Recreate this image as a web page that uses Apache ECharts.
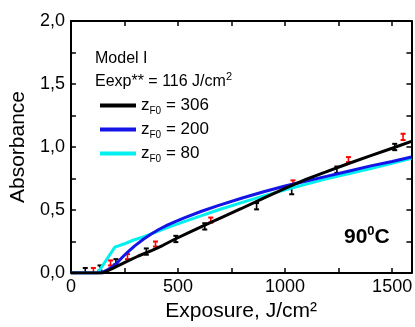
<!DOCTYPE html>
<html><head><meta charset="utf-8">
<script src="https://cdn.jsdelivr.net/npm/echarts@6/dist/echarts.min.js"></script>
<style>html,body{margin:0;padding:0;background:#fff}#c{width:415px;height:327px}</style>
</head><body><div id="c"></div>
<script>
// ---- data ----
const curve306 = [[0,0],[150,0],[200,0.04],[252,0.085],[315,0.135],[379,0.18],[430,0.22],[487,0.27],[555,0.325],[625,0.38],[710,0.445],[794,0.51],[900,0.595],[1000,0.672],[1100,0.745],[1188,0.80],[1290,0.865],[1397,0.93],[1500,0.99],[1590,1.045]];
const curve200 = [[0,0],[140,0],[165,0.02],[190,0.045],[215,0.08],[240,0.125],[265,0.165],[298,0.215],[340,0.27],[375,0.31],[410,0.345],[450,0.38],[490,0.41],[532,0.44],[610,0.49],[687,0.535],[800,0.595],[900,0.645],[1000,0.69],[1100,0.73],[1188,0.765],[1300,0.81],[1400,0.85],[1500,0.885],[1590,0.92]];
const curve80 = [[0,0],[125,0],[205,0.205],[250,0.232],[290,0.26],[335,0.285],[375,0.31],[450,0.36],[532,0.41],[610,0.455],[687,0.50],[800,0.56],[900,0.612],[1000,0.66],[1100,0.705],[1188,0.745],[1300,0.79],[1400,0.83],[1500,0.87],[1590,0.91]];
const expBlack = [[67,0.02,0.02],[136,0.04,0.02],[210,0.09,0.02],[352,0.17,0.025],[490,0.27,0.025],[625,0.37,0.025],[867,0.53,0.025],[1031,0.65,0.025],[1242,0.82,0.025],[1512,1.0,0.025]];
const expRed = [[105,0.02,0.02],[185,0.08,0.02],[264,0.13,0.02],[395,0.23,0.02],[653,0.42,0.02],[1037,0.72,0.015],[1296,0.90,0.02],[1551,1.08,0.025]];
const zValues = ['306','200','80'];
const xTicks = [0,500,1000,1500];
const yTicks = [0,0.5,1.0,1.5,2.0];

const FONT = 'Liberation Sans, Arial, sans-serif';
const chart = echarts.init(document.getElementById('c'), null, {renderer:'canvas'});

function errItem(color){
  return function(params, api){
    const x = api.value(0), y = api.value(1), e = api.value(2);
    const t = api.coord([x, y + e]), b = api.coord([x, y - e]);
    const w = 2.5;
    const st = {stroke: color, lineWidth: 1.6};
    return {type:'group', children:[
      {type:'line', shape:{x1:t[0], y1:t[1], x2:b[0], y2:b[1]}, style:st},
      {type:'line', shape:{x1:t[0]-w, y1:t[1], x2:t[0]+w, y2:t[1]}, style:{stroke:color, lineWidth:2}},
      {type:'line', shape:{x1:b[0]-w, y1:b[1], x2:b[0]+w, y2:b[1]}, style:{stroke:color, lineWidth:2}}
    ]};
  };
}

const names = zValues.map(z => 'z' + z);
const colors = ['#000000','#1414e6','#00f0f0'];
const rich = {
  a:{fontSize:17, fontFamily:FONT, color:'#000', lineHeight:22},
  s:{fontSize:10, fontFamily:FONT, color:'#000', lineHeight:22, padding:[11,0,0,0]}
};
function legendFor(i, top){
  return {
    data:[names[i]], left:95, top:top, orient:'vertical',
    icon:'rect', itemWidth:36, itemHeight:4, itemGap:0,
    textStyle:{rich:rich},
    formatter: () => '{a|z}{s|F0}{a| = ' + zValues[i] + '}',
    selectedMode:false
  };
}

const axisCommon = {
  min:0,
  axisLine:{show:true, onZero:false, lineStyle:{color:'#000', width:2}},
  axisTick:{show:true, inside:true, length:5, lineStyle:{color:'#000', width:1.5}},
  splitLine:{show:false}
};

chart.setOption({
  animation:false,
  grid:{left:68, right:3, top:21, bottom:49},
  legend:[legendFor(0,90), legendFor(1,114), legendFor(2,138)],
  xAxis:[
    Object.assign({}, axisCommon, {type:'value', max:1590, interval:250, position:'bottom',
      name:'Exposure, J/cm\u00B2', nameLocation:'middle', nameGap:28,
      nameTextStyle:{fontSize:21, fontFamily:FONT, color:'#000'},
      axisLabel:{show:true, fontSize:18, fontFamily:FONT, color:'#000', margin:5,
        formatter: v => xTicks.indexOf(v) >= 0 ? String(v) : ''}}),
    Object.assign({}, axisCommon, {type:'value', max:1590, interval:250, position:'top',
      axisLabel:{show:false}})
  ],
  yAxis:[
    Object.assign({}, axisCommon, {type:'value', max:2, interval:0.25, position:'left',
      name:'Absorbance', nameLocation:'middle', nameGap:36,
      nameTextStyle:{fontSize:21, fontFamily:FONT, color:'#000'},
      axisLabel:{show:true, fontSize:18, fontFamily:FONT, color:'#000', margin:6,
        formatter: v => yTicks.some(t => Math.abs(t - v) < 1e-9) ? v.toFixed(1).replace('.', ',') : ''}}),
    Object.assign({}, axisCommon, {type:'value', max:2, interval:0.25, position:'right',
      axisLabel:{show:false}})
  ],
  graphic:[
    {type:'text', left:95, top:51, style:{text:'Model I', fontSize:16, fontFamily:FONT, fill:'#000'}},
    {type:'text', left:95, top:71, style:{text:'{a|Eexp** = 116 J/cm}{p|2}',
      rich:{a:{fontSize:16, fontFamily:FONT, fill:'#000', lineHeight:22},
            p:{fontSize:11, fontFamily:FONT, fill:'#000', lineHeight:22, padding:[0,0,11,0]}}}},
    {type:'text', left:344, top:225, style:{text:'{a|90}{p|0}{a|C}',
      rich:{a:{fontSize:21, fontWeight:'bold', fontFamily:FONT, fill:'#000', lineHeight:26},
            p:{fontSize:13, fontWeight:'bold', fontFamily:FONT, fill:'#000', lineHeight:26, padding:[0,0,11,0]}}}}
  ],
  series:[
    {type:'custom', name:'expRed', renderItem:errItem('#ff0000'), data:expRed, z:3},
    {type:'custom', name:'expBlack', renderItem:errItem('#000000'), data:expBlack, z:3},
    {type:'line', name:names[2], data:curve80, showSymbol:false, symbol:'none', lineStyle:{color:colors[2], width:3}, itemStyle:{color:colors[2]}, z:4},
    {type:'line', name:names[1], data:curve200, showSymbol:false, symbol:'none', lineStyle:{color:colors[1], width:3}, itemStyle:{color:colors[1]}, z:5},
    {type:'line', name:names[0], data:curve306, showSymbol:false, symbol:'none', lineStyle:{color:colors[0], width:3}, itemStyle:{color:colors[0]}, z:6}
  ]
});
</script>
</body></html>
